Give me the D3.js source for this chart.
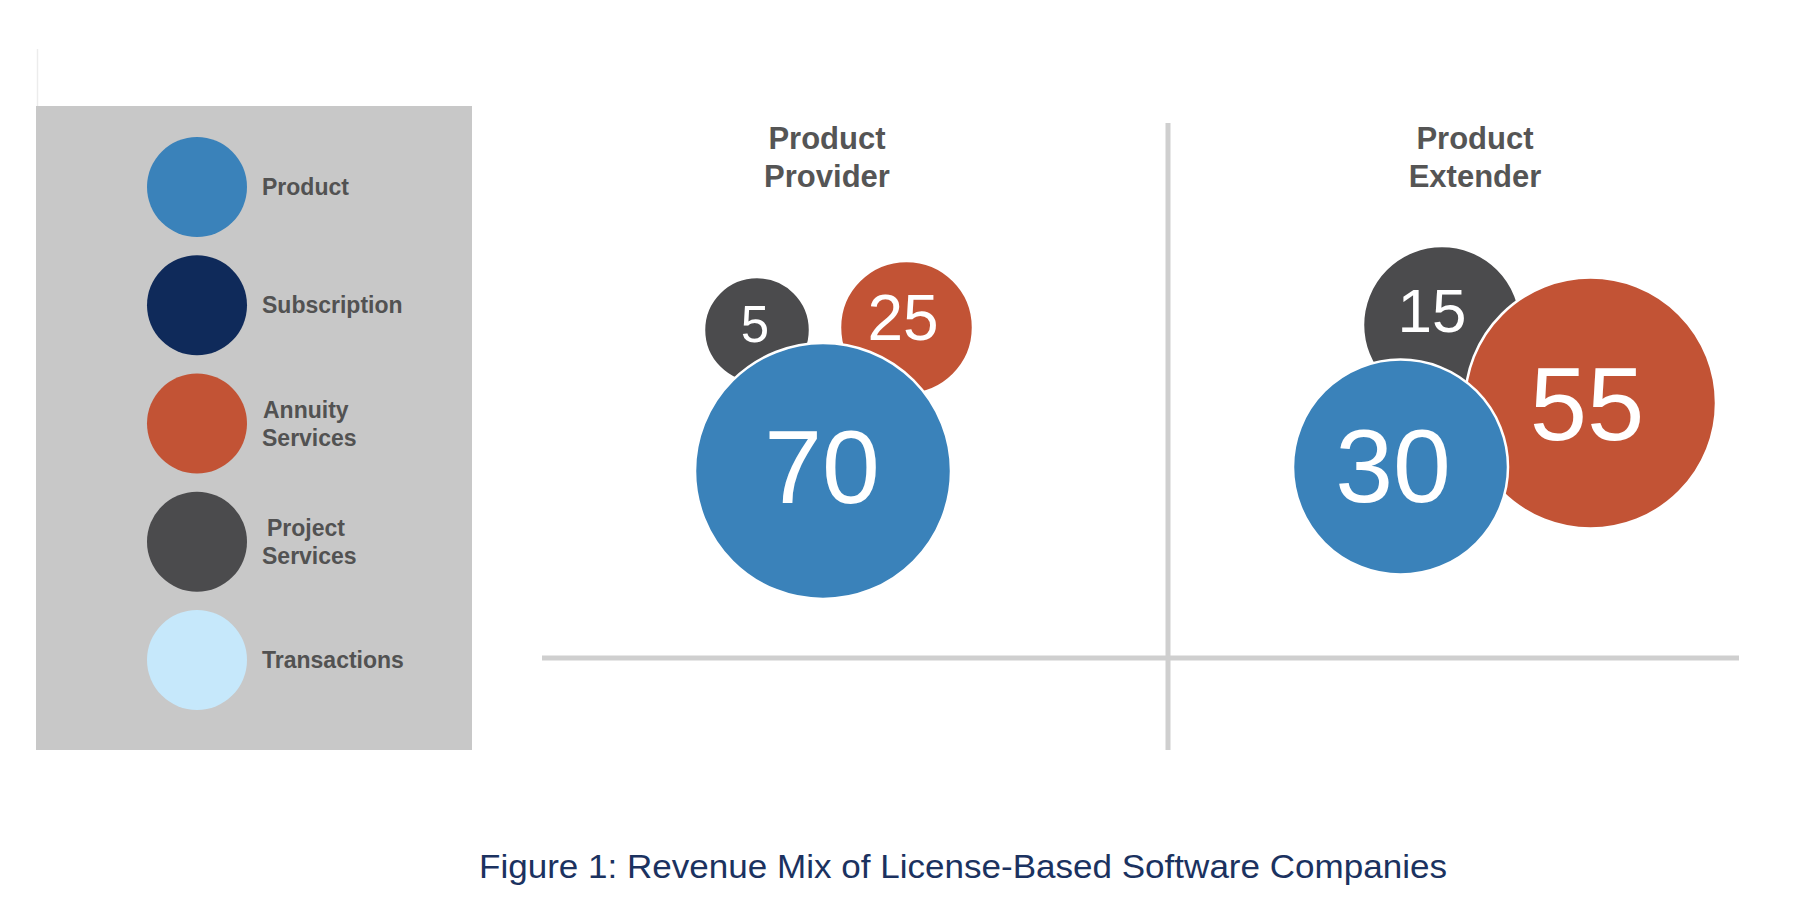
<!DOCTYPE html>
<html><head><meta charset="utf-8">
<script src="https://cdn.jsdelivr.net/npm/d3@7"></script>
<style>html,body{margin:0;padding:0;background:#fff;} svg{display:block;}</style>
</head><body>
<svg id="chart" width="1816" height="910"></svg>
<script>
// ---- data ----
const categories = ["Product", "Subscription", "Annuity Services", "Project Services", "Transactions"];
const segments = ["Product Provider", "Product Extender"];
const bubbleCategories = ["Project Services", "Annuity Services", "Product"];
const providerValues = [5, 25, 70];
const extenderValues = [15, 55, 30];
const captionText = "Figure 1: Revenue Mix of License-Based Software Companies";

// ---- styles / layout (not data) ----
const FONT = "'Liberation Sans', Arial, Helvetica, sans-serif";
const color = d3.scaleOrdinal().domain(categories)
  .range(["#3a82ba", "#0f2a5a", "#c25335", "#4b4b4d", "#c6e8fb"]);

// hand-placed bubble layout per segment (offset from segment anchor), in draw order
const bubbleLayout = {
  "Product Provider": [
    { dx: -70,   cy: 330,   r: 53,    ldx: -2,   ldy: 12,   fs: 51 },
    { dx: 79.5,  cy: 327.5, r: 66.5,  ldx: -3.5, ldy: 12.5, fs: 64 },
    { dx: -4,    cy: 471,   r: 128,   ldx: -1,   ldy: 32,   fs: 104 }
  ],
  "Product Extender": [
    { dx: -33,   cy: 325,   r: 79,    ldx: -10,  ldy: 7,    fs: 62 },
    { dx: 115.5, cy: 403,   r: 125.5, ldx: -3.5, ldy: 37,   fs: 103 },
    { dx: -74.5, cy: 467,   r: 107.5, ldx: -7.5, ldy: 35,   fs: 104 }
  ]
};

const svg = d3.select("#chart");

// faint rule above legend
svg.append("line").attr("x1", 37.5).attr("x2", 37.5).attr("y1", 49).attr("y2", 106)
  .attr("stroke", "#ececec").attr("stroke-width", 1.5);

// ---- legend ----
const legend = svg.append("g");
legend.append("rect").attr("x", 36).attr("y", 106).attr("width", 436).attr("height", 644)
  .attr("fill", "#c8c8c8");

const legendY = d3.scalePoint().domain(categories).range([187, 660]);
const items = legend.selectAll("g.item").data(categories).join("g").attr("class", "item");
items.append("circle")
  .attr("cx", 197).attr("cy", d => legendY(d)).attr("r", 50)
  .attr("fill", d => color(d));
items.each(function(d) {
  const words = d.split(" ");
  const g = d3.select(this);
  const cy = legendY(d);
  const t = g.append("text")
    .attr("font-family", FONT).attr("font-weight", "bold").attr("font-size", 23)
    .attr("fill", "#525252");
  if (words.length === 1) {
    t.attr("x", 262).attr("y", cy + 8).text(d);
  } else {
    words.forEach((w, i) => {
      t.append("tspan")
        .attr("x", i === 0 && w === "Project" ? 267 : (i === 0 ? 263 : 262))
        .attr("y", cy + (i === 0 ? -6 : 22))
        .text(w);
    });
  }
});

// ---- quadrant lines ----
const axisX = d3.scaleLinear().domain([0, 1]).range([542, 1739]);
const axisY = d3.scaleLinear().domain([0, 1]).range([750, 123]);
const dividerX = 1168, baseY = 658;
svg.append("line").attr("x1", axisX(0)).attr("x2", axisX(1)).attr("y1", baseY).attr("y2", baseY)
  .attr("stroke", "#cfcfcf").attr("stroke-width", 5);
svg.append("line").attr("x1", dividerX).attr("x2", dividerX).attr("y1", axisY(1)).attr("y2", axisY(0))
  .attr("stroke", "#cfcfcf").attr("stroke-width", 5);

// ---- segments ----
const anchorX = d3.scaleOrdinal().domain(segments).range([827, 1475]);
const valuesBySegment = { "Product Provider": providerValues, "Product Extender": extenderValues };

segments.forEach(seg => {
  const ax = anchorX(seg);
  const title = svg.append("text")
    .attr("font-family", FONT).attr("font-weight", "bold").attr("font-size", 31)
    .attr("fill", "#555555").attr("text-anchor", "middle");
  seg.split(" ").forEach((w, i) => {
    title.append("tspan").attr("x", ax).attr("y", 149 + i * 38).text(w);
  });

  const rows = bubbleCategories.map((c, i) => ({
    cat: c, value: valuesBySegment[seg][i], L: bubbleLayout[seg][i]
  }));
  const g = svg.append("g");
  const b = g.selectAll("g.b").data(rows).join("g").attr("class", "b");
  b.append("circle")
    .attr("cx", d => ax + d.L.dx).attr("cy", d => d.L.cy).attr("r", d => d.L.r)
    .attr("fill", d => color(d.cat))
    .attr("stroke", "#ffffff").attr("stroke-width", 2.5);
  b.append("text")
    .attr("x", d => ax + d.L.dx + d.L.ldx).attr("y", d => d.L.cy + d.L.ldy)
    .attr("text-anchor", "middle").attr("font-family", FONT)
    .attr("font-size", d => d.L.fs).attr("fill", "#ffffff")
    .text(d => d.value);
});

// ---- caption ----
svg.append("text")
  .attr("x", 963).attr("y", 878).attr("text-anchor", "middle")
  .attr("font-family", FONT).attr("font-size", 33).attr("fill", "#1b3260")
  .attr("textLength", 968).attr("lengthAdjust", "spacingAndGlyphs")
  .text(captionText);
</script>
</body></html>
